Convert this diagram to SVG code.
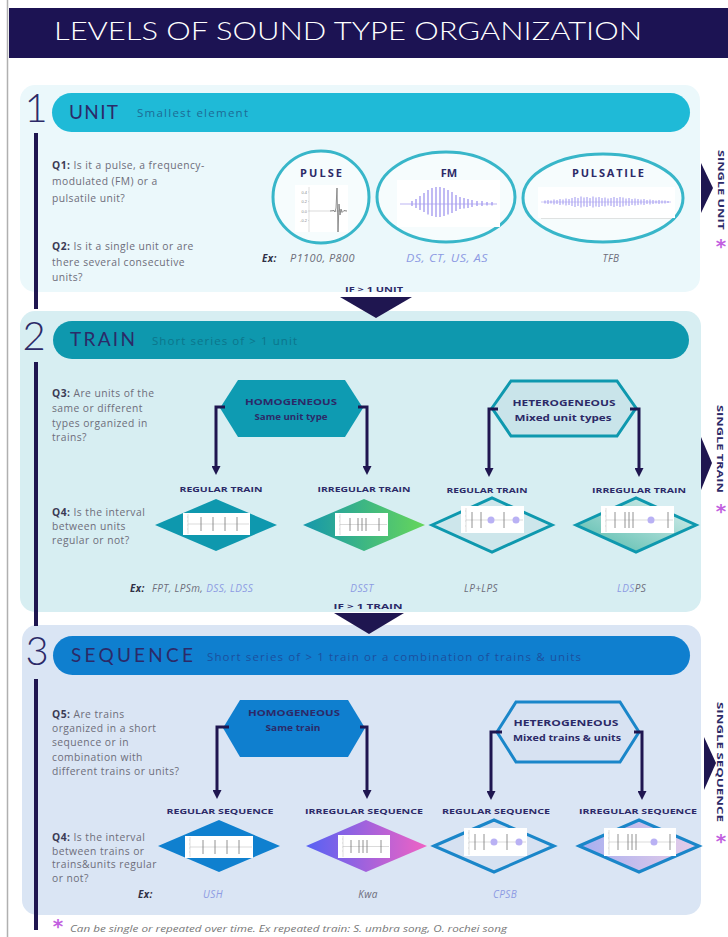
<svg xmlns="http://www.w3.org/2000/svg" width="728" height="937" viewBox="0 0 728 937">
<defs>
<style>
.body{font-family:'Open Sans','Liberation Sans',sans-serif;font-size:10.3px;letter-spacing:0.45px;fill:#6d6d7a}
.qb{font-weight:700;fill:#3b3b55}
.lbl{font-family:'Open Sans','Liberation Sans',sans-serif;font-size:7.5px;font-weight:700;fill:#2c2a68;text-anchor:middle}
.hex{font-family:'Open Sans','Liberation Sans',sans-serif;font-size:8.5px;font-weight:700;fill:#2c2a68;text-anchor:middle}
.ex{font-family:'Open Sans','Liberation Sans',sans-serif;font-size:10px;font-style:italic;fill:#6d6d7a;letter-spacing:0.4px}
.exb{font-weight:700;fill:#2f2f45}
.blue{fill:#8d9be3}
.num{font-family:Lato,'Open Sans',sans-serif;font-weight:300;font-size:40px;fill:#2c2a68;text-anchor:middle}
.head{font-family:Lato,'Open Sans','Liberation Sans',sans-serif;font-size:19px;fill:#2c2a68}
.sub{font-family:'Open Sans','Liberation Sans',sans-serif;font-size:11.5px}
.side{font-family:'Open Sans','Liberation Sans',sans-serif;font-size:9.5px;font-weight:700;fill:#2c2a68;text-anchor:middle}
.ast{font-family:'DejaVu Sans',sans-serif;font-size:20px;font-weight:700;fill:#c25fe0;text-anchor:middle}
.wave{font-family:'Open Sans','Liberation Sans',sans-serif;font-size:11px;font-weight:700;fill:#2c2a68;text-anchor:middle}
.conn{stroke:#1f1650;stroke-width:3;fill:none}
.tl{stroke:#1f1650;stroke-width:4;fill:none}
.spk{stroke:#777;stroke-width:0.8;fill:none}
.base{stroke:#b5b5b5;stroke-width:0.5;fill:none}
.ax{stroke:#c8c8c8;stroke-width:0.6;fill:none}
.wimg{fill:#ffffff}
.blob{fill:#b9b1f4}
.tri{fill:#1f1650}
.axt{font-family:'Liberation Sans',sans-serif;font-size:4px;fill:#888;text-anchor:end}
</style>
<marker id="ah" viewBox="0 0 9 9" refX="1" refY="4.5" markerWidth="9" markerHeight="9" markerUnits="userSpaceOnUse" orient="auto">
<path d="M0,0 L9,4.5 L0,9 z" fill="#1f1650"/>
</marker>
<linearGradient id="g2a" x1="0" y1="0" x2="1" y2="0"><stop offset="0" stop-color="#1597ac"/><stop offset="1" stop-color="#66d65a"/></linearGradient>
<linearGradient id="g2b" x1="0" y1="1" x2="1" y2="0"><stop offset="0" stop-color="#4fb8a8"/><stop offset="1" stop-color="#e2f3f3"/></linearGradient>
<linearGradient id="g3a" x1="0" y1="0" x2="1" y2="0"><stop offset="0" stop-color="#5662f4"/><stop offset="1" stop-color="#f062c4"/></linearGradient>
<linearGradient id="g3b" x1="0" y1="0" x2="1" y2="0"><stop offset="0" stop-color="#a8aff0"/><stop offset="1" stop-color="#e7cde8"/></linearGradient>
</defs>

<rect x="0" y="0" width="728" height="937" fill="#ffffff"/>
<line x1="7.5" y1="0" x2="7.5" y2="937" stroke="#b0b0b0" stroke-width="1.5"/>

<g id="title">
<rect x="9" y="8" width="719" height="50" fill="#1c1353"/>
<text x="54" y="40" textLength="588" lengthAdjust="spacingAndGlyphs" font-family="Lato,'Open Sans','Liberation Sans',sans-serif" font-weight="300" font-size="26" fill="#ffffff">LEVELS OF SOUND TYPE ORGANIZATION</text>
</g>

<g id="panel1">
<rect x="20" y="85" width="680" height="207" rx="15" fill="#ebf8fb"/>
<rect x="52" y="93" width="638" height="39" rx="19.5" fill="#1fbad7"/>
<text class="head" x="69" y="119" textLength="49" lengthAdjust="spacing">UNIT</text>
<text class="sub" x="137" y="117" fill="#1d6b95" textLength="111" lengthAdjust="spacing">Smallest element</text>
<text class="num" x="36" y="122">1</text>
</g>
<g id="panel2">
<rect x="20" y="311" width="681" height="301" rx="15" fill="#d7eef2"/>
<rect x="53" y="321" width="636" height="38" rx="19" fill="#0e98ae"/>
<text class="head" x="70" y="346" textLength="65" lengthAdjust="spacing">TRAIN</text>
<text class="sub" x="152" y="345" fill="#0c758b" textLength="145" lengthAdjust="spacing">Short series of &gt; 1 unit</text>
<text class="num" x="34" y="350">2</text>
</g>
<g id="panel3">
<rect x="22" y="625" width="679" height="290" rx="15" fill="#dae5f4"/>
<rect x="53" y="636" width="637" height="39" rx="19.5" fill="#0f7fcf"/>
<text class="head" x="71" y="662" textLength="122" lengthAdjust="spacing">SEQUENCE</text>
<text class="sub" x="207" y="661" fill="#1c4f9e" textLength="374" lengthAdjust="spacing">Short series of &gt; 1 train or a combination of trains &amp; units</text>
<text class="num" x="37" y="665">3</text>
</g>

<g id="timeline">
<line class="tl" x1="36" y1="133" x2="36" y2="309"/>
<line class="tl" x1="36" y1="362" x2="36" y2="626"/>
<line class="tl" x1="36" y1="679" x2="36" y2="930"/>
</g>

<g id="q1">
<text class="body" x="52" y="168.5"><tspan class="qb">Q1:</tspan> Is it a pulse, a frequency-</text>
<text class="body" x="52" y="185">modulated (FM) or a</text>
<text class="body" x="52" y="201.5">pulsatile unit?</text>
</g>
<g id="q2">
<text class="body" x="52" y="249.5"><tspan class="qb">Q2:</tspan> Is it a single unit or are</text>
<text class="body" x="52" y="265.5">there several consecutive</text>
<text class="body" x="52" y="280.5">units?</text>
</g>

<g id="pulse">
<ellipse cx="321" cy="197" rx="48" ry="46" fill="#f6fcfd" stroke="#38b6c9" stroke-width="3"/>
<text class="wave" x="321" y="177" textLength="42" lengthAdjust="spacing">PULSE</text>
<rect class="wimg" x="295" y="185" width="53" height="47"/>
<text class="axt" x="307" y="193.5">0.4</text>
<text class="axt" x="307" y="203">0.2</text>
<text class="axt" x="307" y="212.5">0.0</text>
<text class="axt" x="307" y="222">-0.2</text>
<path class="ax" d="M309 187V232 M308 192H309 M308 201.5H309 M308 211H309 M308 220.5H309"/>
<path class="base" d="M309 211H347"/>
<path d="M330 211L334 210.5L335 212L336 208L337 188L338 232L339 204L340 215L341 209L342 212.5L344 210.5L347 211" stroke="#666" stroke-width="0.7" fill="none"/>
</g>

<g id="fm">
<ellipse cx="446" cy="197" rx="69" ry="45" fill="#f6fcfd" stroke="#38b6c9" stroke-width="3"/>
<text class="wave" x="449" y="177">FM</text>
<rect class="wimg" x="397" y="180" width="103" height="47"/>
<path d="M400 204H497" stroke="#bdb5f3" stroke-width="1" fill="none"/>
<path d="M412 201V206 M416 199V208 M420 196V210 M424 193V212 M428 190V214.5 M432 188V216 M436 187V217 M440 187V217 M444 188V216 M448 190V214.5 M452 192V213 M456 195V211 M460 197V209 M464 198V208.5 M468 199V208 M472 200V207 M477 201V206 M482 201V206 M487 202V205.5 M492 202V205.5" stroke="#a79ef0" stroke-width="1.4" fill="none"/>
</g>

<g id="pulsatile">
<ellipse cx="603" cy="198" rx="80" ry="44" fill="#f6fcfd" stroke="#38b6c9" stroke-width="3"/>
<text class="wave" x="608" y="177" textLength="72" lengthAdjust="spacing">PULSATILE</text>
<rect class="wimg" x="538" y="187" width="137" height="31"/>
<path d="M541 218.5H672" stroke="#d0d0d0" stroke-width="0.6" fill="none"/>
<path d="M541 202H671" stroke="#c4bdf5" stroke-width="0.8" fill="none"/>
<path d="M545 200.5V203.5 M548 200V204 M551 200.5V203.5 M554 199.5V204.5 M557 200V204 M560 199V205 M563 199.5V204.5 M566 198.5V205.5 M569 199V205 M572 198V206 M575 197V207 M578 198V206 M581 196.5V207.5 M584 197.5V206.5 M587 197V207 M590 198V206 M593 196.5V207.5 M596 197.5V206.5 M599 197V207 M602 198V206 M605 197.5V206.5 M608 198.5V205.5 M611 198V206 M614 197V207 M617 198V206 M620 197V207 M623 197.5V206.5 M626 198.5V205.5 M629 198V206 M632 199V205 M635 198.5V205.5 M638 199V205 M641 199.5V204.5 M644 199V205 M647 200V204 M650 199.5V204.5 M653 200V204 M656 200.5V203.5 M659 200V204 M662 200.5V203.5 M665 200.5V203.5 M668 201V203" stroke="#a79ef0" stroke-width="1.1" fill="none"/>
</g>

<g id="ex1">
<text class="ex" x="262" y="261.5"><tspan class="exb">Ex:</tspan></text>
<text class="ex" x="290" y="261.5" textLength="65" lengthAdjust="spacingAndGlyphs">P1100, P800</text>
<text class="ex blue" x="447" y="261.5" text-anchor="middle" textLength="82" lengthAdjust="spacingAndGlyphs">DS, CT, US, AS</text>
<text class="ex" x="611" y="261.5" text-anchor="middle">TFB</text>
</g>

<g id="single-unit">
<text class="side" transform="translate(717.5,190) rotate(90)" textLength="80" lengthAdjust="spacingAndGlyphs">SINGLE UNIT</text>
<text class="ast" x="721" y="253">*</text>
</g>

<g id="q3">
<text class="body" x="52" y="396.5"><tspan class="qb">Q3:</tspan> Are units of the</text>
<text class="body" x="52" y="411.5">same or different</text>
<text class="body" x="52" y="426.5">types organized in</text>
<text class="body" x="52" y="440.5">trains?</text>
</g>
<g id="q4a">
<text class="body" x="52" y="515.5"><tspan class="qb">Q4:</tspan> Is the interval</text>
<text class="body" x="52" y="529.5">between units</text>
<text class="body" x="52" y="543.5">regular or not?</text>
</g>

<g id="homog2">
<polygon points="220,408 238,380 345,380 363,408 345,437 238,437" fill="#0e9bb2"/>
<text class="hex" x="291" y="405" textLength="92" lengthAdjust="spacingAndGlyphs">HOMOGENEOUS</text>
<text class="hex" x="291" y="420" textLength="73" lengthAdjust="spacingAndGlyphs">Same unit type</text>
</g>
<g id="heterog2">
<polygon points="492,408 511,381 617,381 636,408 617,436 511,436" fill="#c9e4ea" stroke="#0e98ae" stroke-width="3"/>
<text class="hex" x="564" y="406" textLength="103" lengthAdjust="spacingAndGlyphs">HETEROGENEOUS</text>
<text class="hex" x="563" y="421" textLength="97" lengthAdjust="spacingAndGlyphs">Mixed unit types</text>
</g>

<g id="reg-train-1">
<text class="lbl" x="221" y="492" textLength="83" lengthAdjust="spacingAndGlyphs">REGULAR TRAIN</text>
<polygon points="155,525 216,499 277,525 216,551" fill="#0e98ae"/>
<rect class="wimg" x="183" y="513" width="67" height="22"/>
<path class="ax" d="M188 514V534 M187 517H188 M187 521H188 M187 525H188 M187 529H188"/>
<path class="base" d="M188 524H249"/>
<path class="spk" d="M201 517V531 M213 517V531 M225 517V531 M237 517V531"/>
</g>
<g id="irr-train-1">
<text class="lbl" x="364" y="492" textLength="93" lengthAdjust="spacingAndGlyphs">IRREGULAR TRAIN</text>
<polygon points="303,525 364,499 425,525 364,551" fill="url(#g2a)"/>
<rect class="wimg" x="335" y="513" width="53" height="23"/>
<path class="ax" d="M340 514V535 M339 517H340 M339 521H340 M339 525H340 M339 529H340"/>
<path class="base" d="M340 524.5H387"/>
<path class="spk" d="M350 518V531 M358 518V531 M362 518V531 M366 518V531 M379 518V531"/>
</g>
<g id="reg-train-2">
<text class="lbl" x="487" y="493" textLength="81" lengthAdjust="spacingAndGlyphs">REGULAR TRAIN</text>
<polygon points="432,525 492,498 552,525 492,552" fill="#cde6eb" stroke="#0e98ae" stroke-width="3"/>
<rect class="wimg" x="461" y="506" width="63" height="27"/>
<path class="ax" d="M466 508V532 M465 511H466 M465 516H466 M465 521H466 M465 526H466"/>
<path class="base" d="M466 520H523"/>
<circle class="blob" cx="491" cy="520" r="3.5"/>
<circle class="blob" cx="516" cy="520" r="3.5"/>
<path class="spk" d="M472 512V528 M481 512V528 M504 512V528"/>
</g>
<g id="irr-train-2">
<text class="lbl" x="639" y="493" textLength="94" lengthAdjust="spacingAndGlyphs">IRREGULAR TRAIN</text>
<polygon points="576,525 636,498 696,525 636,552" fill="url(#g2b)" stroke="#0e98ae" stroke-width="3"/>
<rect class="wimg" x="601" y="506" width="73" height="27"/>
<path class="ax" d="M606 508V532 M605 511H606 M605 516H606 M605 521H606 M605 526H606"/>
<path class="base" d="M606 520H673"/>
<circle class="blob" cx="651" cy="520" r="3.5"/>
<path class="spk" d="M615 512V528 M625 512V528 M629 512V528 M633 512V528 M668 512V528"/>
</g>

<g id="ex2">
<text class="ex" x="130" y="591.5"><tspan class="exb">Ex:</tspan></text>
<text class="ex" x="152" y="591.5" font-size="10.5" letter-spacing="0.8">FPT, LPSm, <tspan class="blue">DSS, LDSS</tspan></text>
<text class="ex blue" x="362" y="591.5" text-anchor="middle">DSST</text>
<text class="ex" x="481" y="591.5" text-anchor="middle">LP+LPS</text>
<text class="ex" x="617" y="591.5"><tspan class="blue">LDS</tspan>PS</text>
</g>

<g id="single-train">
<text class="side" transform="translate(717,449) rotate(90)" textLength="88" lengthAdjust="spacingAndGlyphs">SINGLE TRAIN</text>
<text class="ast" x="721" y="518">*</text>
</g>

<g id="q5">
<text class="body" x="52" y="717.5"><tspan class="qb">Q5:</tspan> Are trains</text>
<text class="body" x="52" y="731.5">organized in a short</text>
<text class="body" x="52" y="746">sequence or in</text>
<text class="body" x="52" y="760.5">combination with</text>
<text class="body" x="52" y="774.5">different trains or units?</text>
</g>
<g id="q4b">
<text class="body" x="52" y="840.5"><tspan class="qb">Q4:</tspan> Is the interval</text>
<text class="body" x="52" y="854.5">between trains or</text>
<text class="body" x="52" y="868">trains&amp;units regular</text>
<text class="body" x="52" y="881.5">or not?</text>
</g>

<g id="homog3">
<polygon points="223,728 240,700 348,700 365,728 348,757 240,757" fill="#0f7fcf"/>
<text class="hex" x="294" y="716" textLength="92" lengthAdjust="spacingAndGlyphs">HOMOGENEOUS</text>
<text class="hex" x="293" y="730.5" textLength="55" lengthAdjust="spacingAndGlyphs">Same train</text>
</g>
<g id="heterog3">
<polygon points="497,732 516,702 620,702 639,732 620,762 516,762" fill="#d7e2f2" stroke="#1a86c9" stroke-width="3"/>
<text class="hex" x="566" y="726" textLength="105" lengthAdjust="spacingAndGlyphs">HETEROGENEOUS</text>
<text class="hex" x="567" y="741" textLength="108" lengthAdjust="spacingAndGlyphs">Mixed trains &amp; units</text>
</g>

<g id="reg-seq-1">
<text class="lbl" x="220" y="814" textLength="107" lengthAdjust="spacingAndGlyphs">REGULAR SEQUENCE</text>
<polygon points="158,846 219,820 280,846 219,872" fill="#0f80cf"/>
<rect class="wimg" x="185" y="836" width="68" height="22"/>
<path class="ax" d="M190 837V857 M189 840H190 M189 844H190 M189 848H190 M189 852H190"/>
<path class="base" d="M190 847H252"/>
<path class="spk" d="M203 840V854 M215 840V854 M227 840V854 M239 840V854"/>
</g>
<g id="irr-seq-1">
<text class="lbl" x="364" y="814" textLength="118" lengthAdjust="spacingAndGlyphs">IRREGULAR SEQUENCE</text>
<polygon points="306,846 366,820 427,846 366,872" fill="url(#g3a)"/>
<rect class="wimg" x="338" y="835" width="52" height="23"/>
<path class="ax" d="M343 836V857 M342 839H343 M342 843H343 M342 847H343 M342 851H343"/>
<path class="base" d="M343 846.5H389"/>
<path class="spk" d="M351 840V853 M359 840V853 M363 840V853 M367 840V853 M381 840V853"/>
</g>
<g id="reg-seq-2">
<text class="lbl" x="496" y="814" textLength="108" lengthAdjust="spacingAndGlyphs">REGULAR SEQUENCE</text>
<polygon points="434,846 494,820 554,846 494,872" fill="#d6e1f1" stroke="#1a86c9" stroke-width="3"/>
<rect class="wimg" x="464" y="828" width="63" height="28"/>
<path class="ax" d="M469 830V855 M468 833H469 M468 838H469 M468 843H469 M468 848H469"/>
<path class="base" d="M469 842H526"/>
<circle class="blob" cx="494" cy="842" r="3.5"/>
<circle class="blob" cx="519" cy="842" r="3.5"/>
<path class="spk" d="M475 834V850 M484 834V850 M507 834V850"/>
</g>
<g id="irr-seq-2">
<text class="lbl" x="638" y="814" textLength="118" lengthAdjust="spacingAndGlyphs">IRREGULAR SEQUENCE</text>
<polygon points="579,846 639,820 699,846 639,872" fill="url(#g3b)" stroke="#1a86c9" stroke-width="3"/>
<rect class="wimg" x="604" y="828" width="72" height="28"/>
<path class="ax" d="M609 830V855 M608 833H609 M608 838H609 M608 843H609 M608 848H609"/>
<path class="base" d="M609 842H675"/>
<circle class="blob" cx="654" cy="842" r="3.5"/>
<path class="spk" d="M618 834V850 M628 834V850 M632 834V850 M636 834V850 M670 834V850"/>
</g>

<g id="ex3">
<text class="ex" x="138" y="898"><tspan class="exb">Ex:</tspan></text>
<text class="ex blue" x="213" y="898" text-anchor="middle">USH</text>
<text class="ex" x="368" y="898" text-anchor="middle">Kwa</text>
<text class="ex blue" x="505" y="898" text-anchor="middle">CPSB</text>
</g>

<g id="single-sequence">
<text class="side" transform="translate(717,762) rotate(90)" textLength="120" lengthAdjust="spacingAndGlyphs">SINGLE SEQUENCE</text>
<text class="ast" x="721" y="848">*</text>
</g>

<g id="connectors">
<text class="lbl" x="374" y="292" textLength="58" lengthAdjust="spacingAndGlyphs">IF &gt; 1 UNIT</text>
<polygon class="tri" points="340,297 412,297 376,318"/>
<text class="lbl" x="368" y="609" textLength="69" lengthAdjust="spacingAndGlyphs">IF &gt; 1 TRAIN</text>
<polygon class="tri" points="334,613 404,613 369,634"/>
<polygon class="tri" points="701,163 713,188 701,213"/>
<polygon class="tri" points="701,437 712,463 701,490"/>
<polygon class="tri" points="704,737 716,763 704,790"/>
<path class="conn" d="M225 407H216V467" marker-end="url(#ah)"/>
<path class="conn" d="M358 407H367V467" marker-end="url(#ah)"/>
<path class="conn" d="M498 409H489V469" marker-end="url(#ah)"/>
<path class="conn" d="M630 409H639V469" marker-end="url(#ah)"/>
<path class="conn" d="M229 727H217V791" marker-end="url(#ah)"/>
<path class="conn" d="M360 727H367V791" marker-end="url(#ah)"/>
<path class="conn" d="M502 732H491V792" marker-end="url(#ah)"/>
<path class="conn" d="M634 732H642V792" marker-end="url(#ah)"/>
</g>

<g id="footnote">
<text class="ast" x="58" y="933" font-size="14">*</text>
<text x="70" y="932" font-family="'Open Sans','Liberation Sans',sans-serif" font-size="8.5" font-style="italic" fill="#777" textLength="437" lengthAdjust="spacingAndGlyphs">Can be single or repeated over time. Ex repeated train: S. umbra song, O. rochei song</text>
</g>
</svg>
